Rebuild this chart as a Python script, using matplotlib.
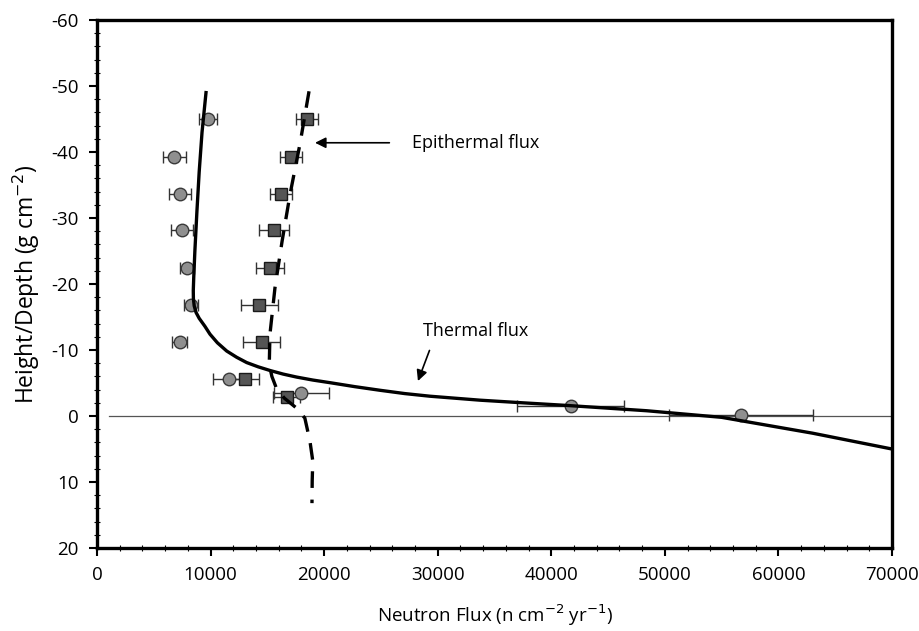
import numpy as np
import matplotlib.pyplot as plt
from matplotlib.ticker import MultipleLocator

# Measured points (thermal = circles, epithermal = squares)
thermal_flux = [9800, 6800, 7300, 7500, 7900, 8300, 7300, 11600, 18000, 41700, 56700]
thermal_depth = [-45.0, -39.2, -33.6, -28.2, -22.4, -16.8, -11.2, -5.6, -3.5, -1.5, -0.2]
thermal_err = [800, 1000, 950, 950, 600, 600, 650, 1400, 2400, 4700, 6300]

epi_flux = [18500, 17100, 16200, 15600, 15250, 14300, 14500, 13000, 16700]
epi_depth = [-45.0, -39.2, -33.6, -28.2, -22.4, -16.8, -11.2, -5.6, -2.9]
epi_err = [950, 950, 1000, 1300, 1250, 1600, 1600, 1300, 1200]

# Model curves
thermal_curve_x = [9600, 9250, 9000, 8800, 8620, 8520, 8480, 8490, 8560, 8720, 9000,
                   9500, 9950, 10600, 11420, 12300, 13180, 14200, 15230, 16400,
                   17580, 19000, 20520, 22700, 24920, 27100, 29320, 33720, 37500,
                   41400, 48400, 55000, 63000, 70000]
thermal_curve_y = [-49.0, -43.0, -37.0, -31.0, -25.0, -21.0, -19.0, -17.8, -16.7, -15.7, -14.8,
                   -13.6, -12.4, -11.1, -9.85, -8.9, -8.1, -7.45, -6.9, -6.35,
                   -5.9, -5.45, -5.05, -4.45, -3.9, -3.4, -3.0, -2.4, -2.0,
                   -1.6, -0.8, 0.2, 2.6, 5.0]

epi_curve_x = [18670, 17870, 17000, 16300, 15670, 15230, 15170, 15400, 15800,
               16500, 17500, 18300, 18750, 19000, 18950, 18930]
epi_curve_y = [-49.2, -41.2, -33.6, -26.5, -19.4, -12.4, -7.8, -6.0, -4.2,
               -2.7, -1.3, 0.3, 3.8, 6.8, 9.8, 13.2]

plt.rcParams['font.family'] = ['Open Sans', 'DejaVu Sans']
plt.rcParams['axes.unicode_minus'] = False

fig = plt.figure(figsize=(9.2, 6.31), dpi=100)
ax = fig.add_axes([0.1054, 0.1315, 0.8642, 0.8368])

ax.axhline(0, xmin=0.015, xmax=1, color='#555555', lw=0.9, zorder=1)

ax.errorbar(thermal_flux, thermal_depth, xerr=thermal_err, fmt='o', ms=9,
            mfc='#8f8f8f', mec='#3a3a3a', mew=1.0, ecolor='#333333',
            elinewidth=1.0, capsize=4, capthick=1.0, zorder=2)
ax.errorbar(epi_flux, epi_depth, xerr=epi_err, fmt='s', ms=9,
            mfc='#555555', mec='#1a1a1a', mew=1.0, ecolor='#333333',
            elinewidth=1.0, capsize=4, capthick=1.0, zorder=2)

ax.plot(thermal_curve_x, thermal_curve_y, color='black', lw=2.4, zorder=3)
ax.plot(epi_curve_x, epi_curve_y, color='black', lw=2.4, dashes=(5, 3.5), zorder=3)

ax.annotate('Epithermal flux', xy=(19200, -41.4), xytext=(27700, -41.4),
            fontsize=13, va='center', ha='left',
            arrowprops=dict(arrowstyle='-|>', color='black', lw=1.2,
                            mutation_scale=16, shrinkB=0, shrinkA=14))
ax.annotate('Thermal flux', xy=(28260, -5.3), xytext=(28700, -12.9),
            fontsize=13, va='center', ha='left',
            arrowprops=dict(arrowstyle='-|>', color='black', lw=1.2,
                            mutation_scale=16, shrinkB=0, shrinkA=6,
                            relpos=(0.1, 0.0)))

ax.set_xlim(0, 70000)
ax.set_ylim(20, -60)
ax.xaxis.set_major_locator(MultipleLocator(10000))
ax.xaxis.set_minor_locator(MultipleLocator(2000))
ax.yaxis.set_major_locator(MultipleLocator(10))
ax.yaxis.set_minor_locator(MultipleLocator(2))
ax.tick_params(which='major', direction='out', length=6, width=1.5, labelsize=13.5, pad=7)
ax.tick_params(which='minor', direction='inout', length=4, width=0.8)

for sp in ax.spines.values():
    sp.set_linewidth(2.4)

ax.set_xlabel('Neutron Flux (n cm$^{-2}$ yr$^{-1}$)', fontsize=13.5, labelpad=13)
ax.set_ylabel('Height/Depth (g cm$^{-2}$)', fontsize=16.5, labelpad=7)

fig.savefig('out.png', dpi=100)
